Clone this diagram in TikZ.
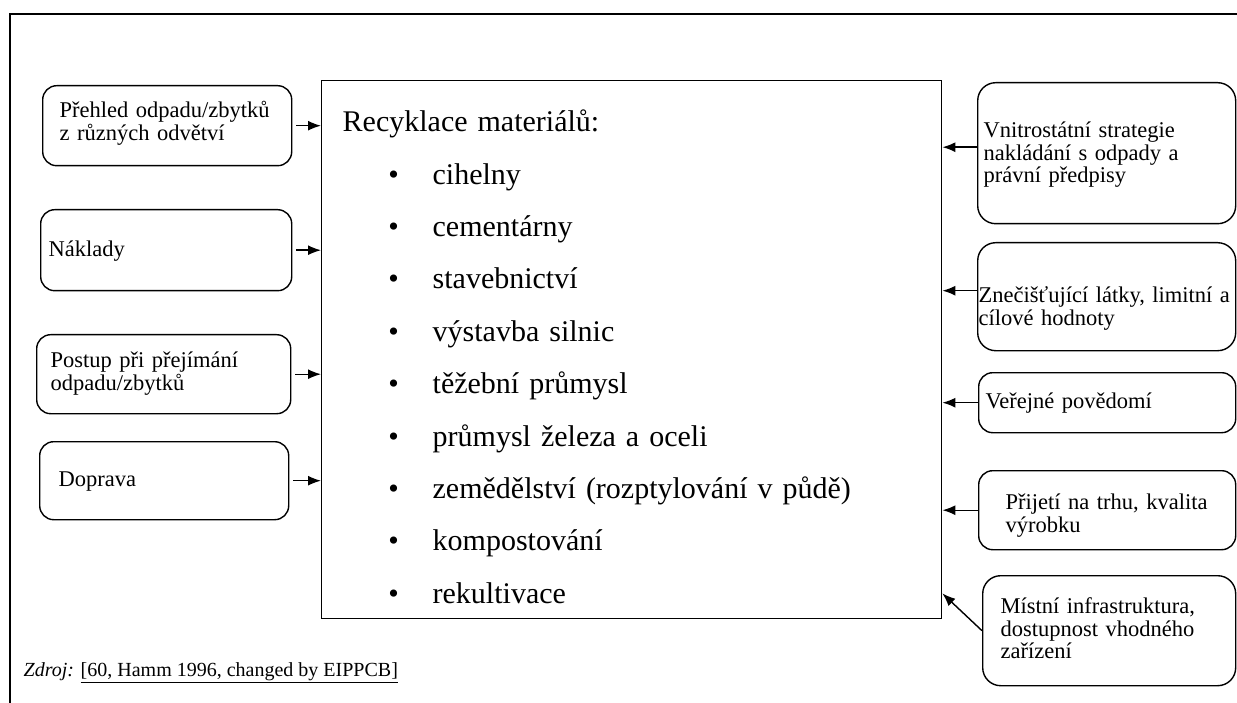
\documentclass[tikz,border=0pt]{standalone}
\usepackage{fontspec}
\setmainfont{Liberation Serif}
\usetikzlibrary{arrows.meta,calc}
\tikzset{
  every picture/.style={color=black, line width=1.4pt},
  factor/.style={draw, rounded corners=14pt, fill=white, inner ysep=0pt, align=left, anchor=north west, font=\fontsize{22.5}{22.5}\selectfont},
  panel/.style={draw, inner ysep=0pt, inner xsep=21pt, align=left, anchor=north west, font=\fontsize{30}{52.4}\selectfont},
  feed/.style={-{Latex[length=13pt,width=10pt]}, line width=1.4pt},
  src/.style={anchor=base west, inner sep=0pt, font=\fontsize{20}{24}\selectfont},
}
% one bulleted line of the material list
\newcommand{\bulletline}[1]{\hspace*{45.75pt}\makebox[44.25pt][l]{\textbullet}#1}

\begin{document}
\begin{tikzpicture}[x=1pt, y=-1pt]
  \useasboundingbox (0,0) rectangle (1237,703);
  \draw[line width=1.6pt] (10,703) |- (1237,14);

  % central list
  \node[panel, text width=578pt, text height=51pt, text depth=487pt] (main) at (321,80) {Recyklace materiálů:\\
    \bulletline{cihelny}\\
    \bulletline{cementárny}\\
    \bulletline{stavebnictví}\\
    \bulletline{výstavba silnic}\\
    \bulletline{těžební průmysl}\\
    \bulletline{průmysl železa a oceli}\\
    \bulletline{zemědělství (rozptylování v půdě)}\\
    \bulletline{kompostování}\\
    \bulletline{rekultivace}};

  % inputs on the left
  \node[factor, inner xsep=17pt, text width=215pt, text height=32pt, text depth=48pt] (l1) at (42,85) {Přehled odpadu/zbytků\\z různých odvětví};
  \node[factor, inner xsep=8pt, text width=235pt, text height=47pt, text depth=34pt] (l2) at (40,209) {Náklady};
  \node[factor, inner xsep=14pt, text width=226pt, text height=33pt, text depth=46pt] (l3) at (36,334) {Postup při přejímání\\odpadu/zbytků};
  \node[factor, inner xsep=19pt, text width=211pt, text height=45pt, text depth=33pt] (l4) at (39,441) {Doprava};

  % constraints on the right
  \node[factor, rounded corners=18pt, inner xsep=6pt, text width=246pt, text height=55pt, text depth=86pt] (r1) at (977,82) {Vnitrostátní strategie\\nakládání s odpady a\\právní předpisy};
  \node[factor, rounded corners=18pt, inner xsep=1pt, text width=256pt, text height=60pt, text depth=48pt] (r2) at (977,242) {\mbox{Znečišťující látky, limitní a}\\cílové hodnoty};
  \node[factor, inner xsep=7pt, text width=243pt, text height=36pt, text depth=24pt] (r3) at (978,372) {Veřejné povědomí};
  \node[factor, inner xsep=27pt, text width=203pt, text height=39pt, text depth=40pt] (r4) at (978,470) {\mbox{Přijetí na trhu, kvalita}\\výrobku};
  \node[factor, rounded corners=18pt, inner xsep=18pt, text width=217pt, text height=38pt, text depth=72pt] (r5) at (982,575) {Místní infrastruktura,\\dostupnost vhodného\\zařízení};

  \foreach \n in {l1,l2,l3,l4}
    \draw[feed, shorten <=4pt] (\n.east) -- (\n.east -| main.west);
  \draw[feed] ($(r1.west)+(0,-6)$) -- ($(r1.west -| main.east)+(0,-6)$);
  \draw[feed] ($(r2.west)+(0,-6)$) -- ($(r2.west -| main.east)+(0,-6)$);
  \draw[feed] (r3.west) -- (r3.west -| main.east);
  \draw[feed] (r4.west) -- (r4.west -| main.east);
  \coordinate (m5) at ($(main.south east)+(0,-26)$);
  \draw[feed] (r5.west) -- (m5);

  \node[src] (source) at (23,676) {\textit{Zdroj:} \underline{[60, Hamm 1996, changed by EIPPCB]}};
\end{tikzpicture}
\end{document}
